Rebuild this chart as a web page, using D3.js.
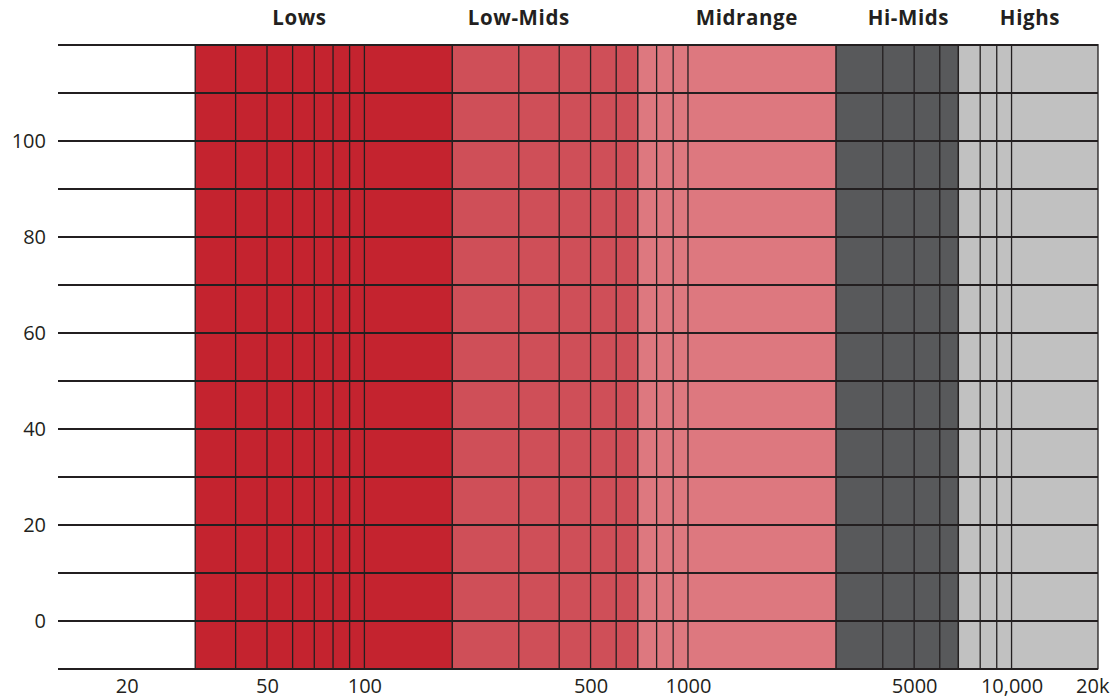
<!DOCTYPE html>
<head>
<meta charset="utf-8">
<script src="https://cdn.jsdelivr.net/npm/d3@7"></script>
<style>
body { margin: 0; background: #fff; font-family: "Open Sans", sans-serif; }
.grid line { stroke: #231f20; shape-rendering: crispEdges; }
.grid path { stroke-width: 0; }
.label text { font: 20px "Open Sans", sans-serif; fill: #231f20; }
.label path, .label line { display: none; }
.band-title { font: bold 20.5px "Open Sans", sans-serif; fill: #231f20; letter-spacing: 0.6px; text-anchor: middle; }
</style>
<body>
<div id="chart"></div>
<script>

// frequency bands (Hz)
var bandNames  = ["Lows", "Low-Mids", "Midrange", "Hi-Mids", "Highs"];
var bandEdges  = [30, 187, 700, 2870, 6850, 18500];
var bandColors = ["#c4232f", "#cf4f58", "#dd787f", "#58595b", "#c1c1c1"];
var titleAt    = [63, 300, 1520, 4800, 11400];

// vertical grid lines inside the bands
var freqGrid = [40, 50, 60, 70, 80, 90, 100,
                300, 400, 500, 600,
                800, 900, 1000,
                4000, 5000, 6000,
                8000, 9000, 10000];

// x tick labels
var xTicks  = [20, 50, 100, 500, 1000, 5000, 10000, 20000];
var xLabels = ["20", "50", "100", "500", "1000", "5000", "10,000", "20k"];

// y axis
var yGrid   = [-10, 0, 10, 20, 30, 40, 50, 60, 70, 80, 90, 100, 110, 120];
var yLabels = [0, 20, 40, 60, 80, 100];

var margin = {top: 44.7, right: 19, bottom: 30.3, left: 58},
    width = 1117 - margin.left - margin.right,
    height = 699 - margin.top - margin.bottom;

var x = d3.scaleLog().domain([11.3, 18500]).range([0, width]);
var y = d3.scaleLinear().domain([-10, 120]).range([height, 0]);

var svg = d3.select("#chart").append("svg")
    .attr("width", 1117)
    .attr("height", 699)
  .append("g")
    .attr("transform", "translate(" + margin.left + "," + margin.top + ")");

// band blocks
var bands = bandNames.map(function(n, i) {
  return {name: n, lo: bandEdges[i], hi: bandEdges[i + 1], color: bandColors[i], at: titleAt[i]};
});

svg.selectAll(".band")
    .data(bands)
  .enter().append("rect")
    .attr("class", "band")
    .attr("x", function(d) { return x(d.lo); })
    .attr("width", function(d) { return x(d.hi) - x(d.lo); })
    .attr("y", y(120))
    .attr("height", y(-10) - y(120))
    .style("fill", function(d) { return d.color; })
    .style("stroke", "#231f20")
    .style("stroke-width", 1.3);

// vertical grid lines
svg.selectAll(".vgrid")
    .data(freqGrid)
  .enter().append("line")
    .attr("class", "vgrid")
    .attr("x1", function(d) { return x(d); })
    .attr("x2", function(d) { return x(d); })
    .attr("y1", y(120))
    .attr("y2", y(-10))
    .style("stroke", "#231f20")
    .style("stroke-width", 1.3);

// horizontal grid lines
svg.append("g")
    .attr("class", "grid")
    .call(d3.axisLeft(y)
        .tickValues(yGrid)
        .tickSize(-width)
        .tickFormat(""))
    .selectAll("line")
    .style("stroke-width", 1.6);

// y labels
svg.append("g")
    .attr("class", "label")
    .call(d3.axisLeft(y)
        .tickValues(yLabels)
        .tickSize(0)
        .tickPadding(12));

// x labels
var xAxis = svg.append("g")
    .attr("class", "label")
    .attr("transform", "translate(0," + height + ")")
    .call(d3.axisBottom(x)
        .tickValues(xTicks)
        .tickSize(0)
        .tickPadding(10)
        .tickFormat(function(d, i) { return xLabels[i]; }));

// first and last labels sit left of their tick
xAxis.selectAll("text")
    .attr("text-anchor", function(d, i) {
      return (i === 0 || i === xTicks.length - 1) ? "end" : "middle";
    });

// band titles
svg.selectAll(".band-title")
    .data(bands)
  .enter().append("text")
    .attr("class", "band-title")
    .attr("x", function(d) { return x(d.at); })
    .attr("y", 25 - margin.top)
    .text(function(d) { return d.name; });

</script>
</body>
